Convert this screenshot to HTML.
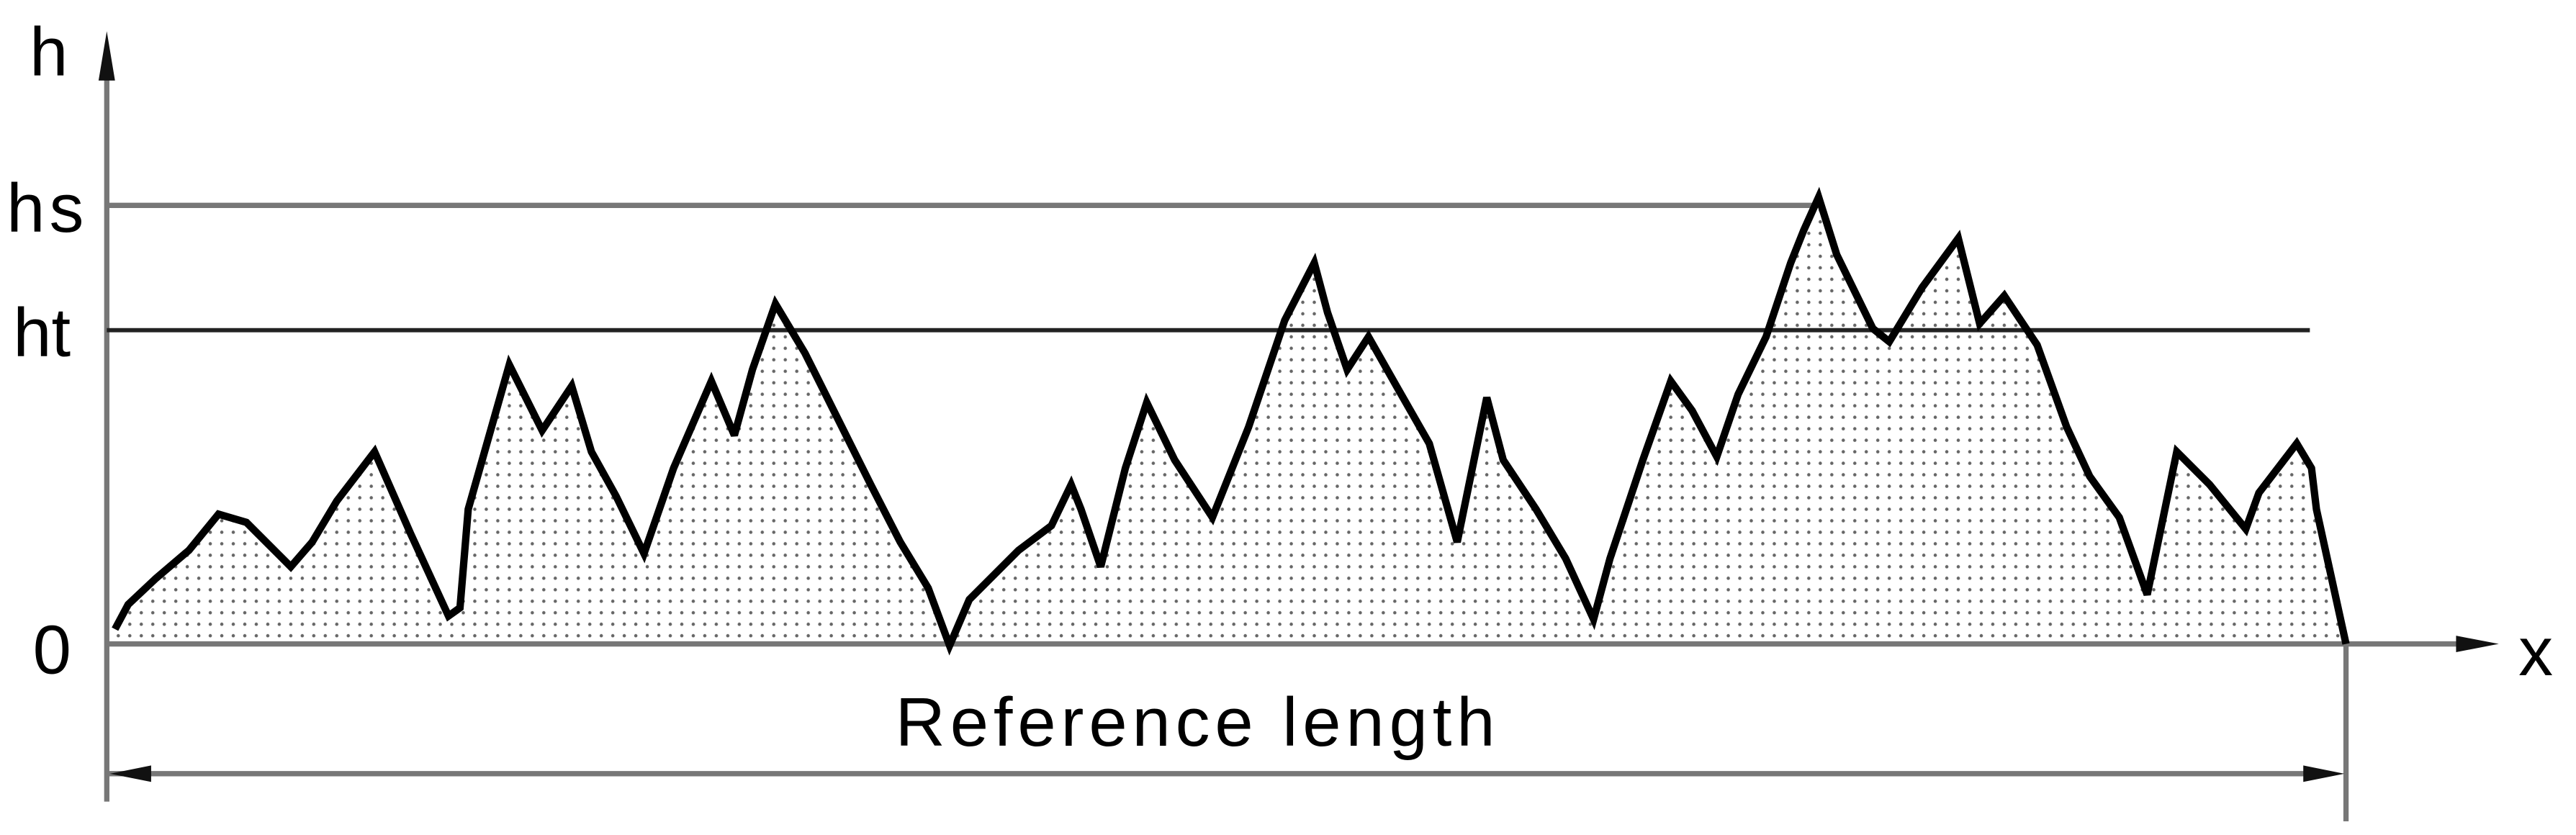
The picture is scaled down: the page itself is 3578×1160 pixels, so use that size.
<!DOCTYPE html>
<html><head><meta charset="utf-8"><style>
html,body{margin:0;padding:0;background:#fff;}
svg{display:block;}
text{font-family:"Liberation Sans",sans-serif;fill:#000;}
</style></head><body>
<svg width="3578" height="1160" viewBox="0 0 1568 508.3" xmlns="http://www.w3.org/2000/svg">
<defs>
<pattern id="dots" width="7" height="7" patternUnits="userSpaceOnUse">
<circle cx="2" cy="2" r="1" fill="#666"/>
</pattern>
</defs>
<polygon fill="url(#dots)" points="70,392 70,383 78,368 95,352 115,335 133,313 150,318 177,345 190,330 205,305 228,275 250,325 273,375 280,370 285,310 310,222 330,262 348,235 360,275 375,302 392,337 410,285 433,232 447,265 458,225 472,185 490,215 510,255 530,295 548,330 565,358 578,393 590,365 600,355 620,335 640,320 652,295 658,310 670,345 685,285 698,245 715,280 738,315 760,260 782,195 800,160 808,190 820,225 833,205 850,235 870,270 887,330 905,242 915,280 935,310 953,340 970,377 980,340 1000,280 1017,232 1030,250 1045,278 1058,240 1075,205 1090,160 1098,140 1107,120 1118,155 1140,200 1150,208 1170,175 1192,145 1205,197 1220,180 1240,210 1258,260 1272,290 1290,315 1307,362 1325,275 1345,295 1367,322 1375,300 1398,270 1407,285 1410,310 1428,392"/>
<g stroke="#777" stroke-width="3.2" fill="none">
<line x1="65" y1="40" x2="65" y2="488"/>
<line x1="65" y1="125" x2="1103" y2="125"/>
<line x1="65" y1="392" x2="1500" y2="392"/>
<line x1="65" y1="471" x2="1410" y2="471"/>
<line x1="1428" y1="392" x2="1428" y2="500"/>
</g>
<line x1="65" y1="201" x2="1406" y2="201" stroke="#222" stroke-width="2.6"/>
<polygon points="65,19 60,49 70,49" fill="#111"/>
<polygon points="1521,392 1495,387 1495,397" fill="#111"/>
<polygon points="67,471 92,466 92,476" fill="#111"/>
<polygon points="1427,471 1402,466 1402,476" fill="#111"/>
<polyline fill="none" stroke="#000" stroke-width="4.5" stroke-linejoin="miter" stroke-miterlimit="3" points="70,383 78,368 95,352 115,335 133,313 150,318 177,345 190,330 205,305 228,275 250,325 273,375 280,370 285,310 310,222 330,262 348,235 360,275 375,302 392,337 410,285 433,232 447,265 458,225 472,185 490,215 510,255 530,295 548,330 565,358 578,393 590,365 600,355 620,335 640,320 652,295 658,310 670,345 685,285 698,245 715,280 738,315 760,260 782,195 800,160 808,190 820,225 833,205 850,235 870,270 887,330 905,242 915,280 935,310 953,340 970,377 980,340 1000,280 1017,232 1030,250 1045,278 1058,240 1075,205 1090,160 1098,140 1107,120 1118,155 1140,200 1150,208 1170,175 1192,145 1205,197 1220,180 1240,210 1258,260 1272,290 1290,315 1307,362 1325,275 1345,295 1367,322 1375,300 1398,270 1407,285 1410,310 1428,392"/>
<text x="18" y="46" font-size="42">h</text>
<text x="4" y="141" font-size="42" textLength="47">hs</text>
<text x="8" y="217" font-size="42">ht</text>
<text x="20" y="410" font-size="42">0</text>
<text x="1533" y="411" font-size="42">x</text>
<text x="545" y="454" font-size="42" textLength="365">Reference length</text>
</svg>
</body></html>
